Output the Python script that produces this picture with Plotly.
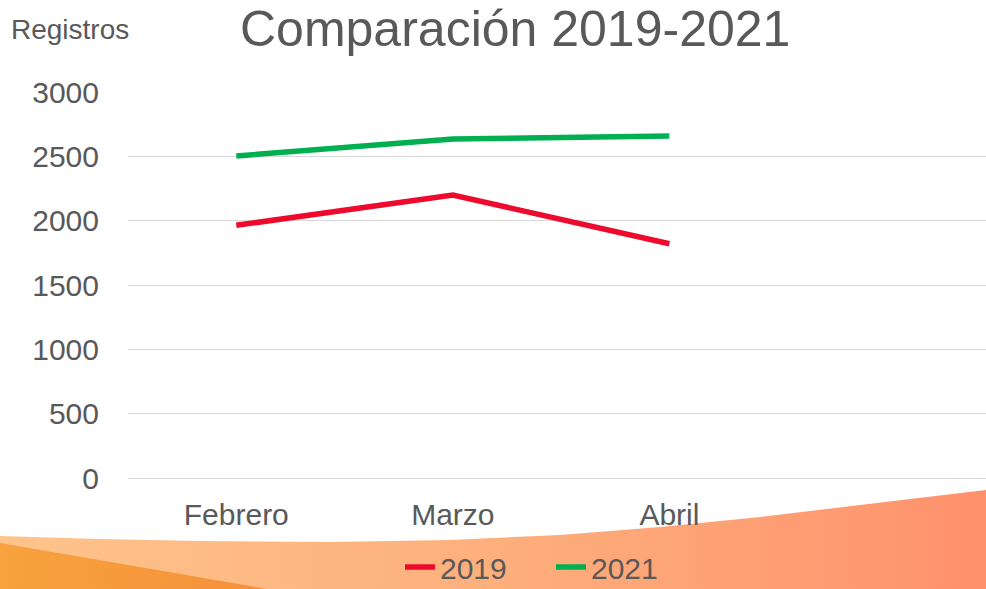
import plotly.graph_objects as go

# ---- data ----
categories = ["Febrero", "Marzo", "Abril"]
values_2019 = [1966, 2201, 1823]
values_2021 = [2505, 2637, 2660]
series_names = ["2019", "2021"]
series_colors = ["#EE0A2C", "#00B050"]
y_ticks = [0, 500, 1000, 1500, 2000, 2500, 3000]

W, H = 986, 589
FONT = "Liberation Sans, Arial, sans-serif"
GRAY = "#595959"

fig = go.Figure()

# ---- decorative background wave (canvas pixel coords on axis x/y) ----
wave_x = [0, 100, 200, 330, 450, 560, 660, 760, 860, 986, 986, 0, 0]
wave_y = [536, 539, 541, 542, 540, 535, 527, 517, 505, 490, 589, 589, 536]
fig.add_trace(go.Scatter(
    x=wave_x, y=wave_y, mode="lines", fill="toself",
    line=dict(width=0, color="rgba(0,0,0,0)"),
    fillgradient=dict(type="horizontal", start=0, stop=986,
                      colorscale=[[0, "#FEC48B"], [0.5, "#FDAF7C"], [1, "#FF916D"]]),
    hoverinfo="skip", showlegend=False, xaxis="x", yaxis="y"))
tri_x = [0, 267, 0, 0]
tri_y = [543, 589, 589, 543]
fig.add_trace(go.Scatter(
    x=tri_x, y=tri_y, mode="lines", fill="toself",
    line=dict(width=0, color="rgba(0,0,0,0)"),
    fillgradient=dict(type="horizontal", start=0, stop=267,
                      colorscale=[[0, "#F7A23E"], [1, "#F5913A"]]),
    hoverinfo="skip", showlegend=False, xaxis="x", yaxis="y"))

# ---- data series ----
for name, vals, col in zip(series_names, [values_2019, values_2021], series_colors):
    fig.add_trace(go.Scatter(
        x=categories, y=vals, name=name, mode="lines",
        line=dict(color=col, width=5.5),
        xaxis="x2", yaxis="y2"))

fig.update_layout(
    width=W, height=H,
    margin=dict(l=0, r=0, t=0, b=0, autoexpand=False),
    paper_bgcolor="white",
    plot_bgcolor="rgba(0,0,0,0)",
    font=dict(family=FONT, color=GRAY),
    xaxis=dict(domain=[0, 1], range=[0, W], visible=False, fixedrange=True),
    yaxis=dict(domain=[0, 1], range=[H, 0], visible=False, fixedrange=True),
    xaxis2=dict(domain=[128 / W, 1], anchor="y2", type="category",
                range=[-0.5, 3.462], showgrid=False, zeroline=False,
                showline=False, ticks="", automargin=False,
                tickfont=dict(size=30, color=GRAY, family=FONT),
                ticklabelstandoff=16),
    yaxis2=dict(domain=[(H - 478.3) / H, (H - 92.3) / H], anchor="x2",
                range=[0, 3000], tickvals=y_ticks, showgrid=True,
                gridcolor="#D9D9D9", gridwidth=1, zeroline=True,
                zerolinecolor="#D9D9D9", zerolinewidth=1,
                showline=False, ticks="", automargin=False,
                tickfont=dict(size=30, color=GRAY, family=FONT),
                ticklabelstandoff=28),
    legend=dict(orientation="h", x=400 / W, xanchor="left",
                y=(H - 567) / H, yanchor="middle",
                font=dict(size=30, color=GRAY, family=FONT),
                bgcolor="rgba(0,0,0,0)", itemwidth=30, tracegroupgap=0,
                entrywidth=106, entrywidthmode="pixels"),
    showlegend=True,
    annotations=[
        dict(text="Comparación 2019-2021", x=515 / W, y=1 - 29 / H,
             xref="paper", yref="paper", xanchor="center", yanchor="middle",
             showarrow=False, font=dict(size=50, color=GRAY, family=FONT)),
        dict(text="Registros", x=9 / W, y=1 - 29 / H,
             xref="paper", yref="paper", xanchor="left", yanchor="middle",
             showarrow=False, font=dict(size=28, color=GRAY, family=FONT)),
    ],
)

fig.write_html("out.html",
               config={"displayModeBar": False},
               post_script="document.body.style.margin='0';document.body.style.overflow='hidden';")
